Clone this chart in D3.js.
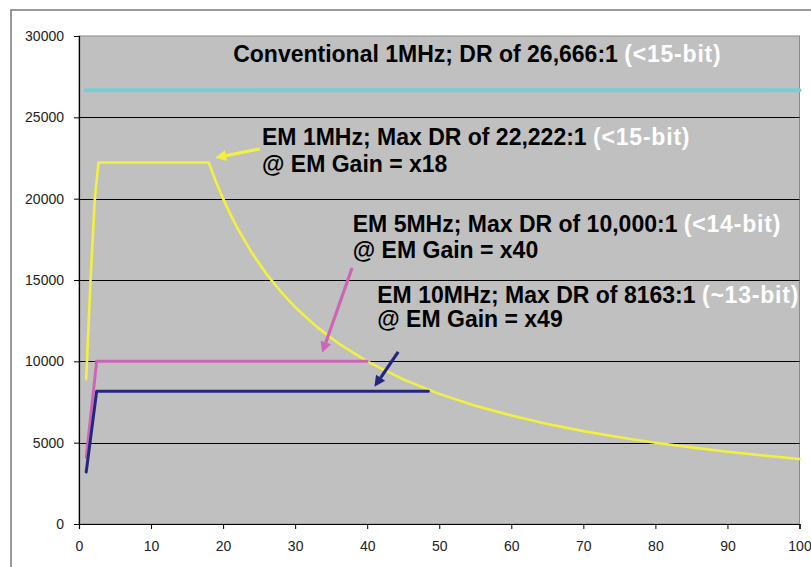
<!DOCTYPE html>
<html>
<head>
<meta charset="utf-8">
<script src="https://cdn.jsdelivr.net/npm/d3@7"></script>
<style>
  html, body { margin: 0; padding: 0; background: #ffffff; }
  svg { display: block; }
</style>
</head>
<body>
<svg id="chart" width="811" height="567"></svg>
<script>
// ---- Data ----
const xTicks = [0, 10, 20, 30, 40, 50, 60, 70, 80, 90, 100];
const yTicks = [0, 5000, 10000, 15000, 20000, 25000, 30000];

const convX = [0.9, 100];
const convY = [26666, 26666];

const em1X = [1, 1.6, 2.2, 2.7, 18, 19, 20, 21, 22, 24, 26, 28, 30, 33, 36, 40, 45, 50, 55, 60, 65, 70, 75, 80, 85, 90, 95, 100];
const em1Y = [8900, 15000, 20000, 22222, 22222, 21050, 20000, 19050, 18180, 16670, 15380, 14290, 13330, 12120, 11110, 10000, 8890, 8000, 7270, 6670, 6150, 5710, 5330, 5000, 4710, 4440, 4210, 4000];

const em5X = [1, 2.45, 40];
const em5Y = [4100, 10000, 10000];

const em10X = [1, 2.45, 48.5];
const em10Y = [3200, 8163, 8163];

const seriesNames = ["Conventional 1MHz", "EM 1MHz", "EM 5MHz", "EM 10MHz"];
const seriesColors = ["#7ccbd3", "#f2f040", "#cc66b4", "#262680"];

// annotation texts: [black part, white part], second line
const noteLine1 = [
  ["Conventional 1MHz; DR of 26,666:1 ", "(<15-bit)"],
  ["EM 1MHz; Max DR of 22,222:1 ", "(<15-bit)"],
  ["EM 5MHz; Max DR of 10,000:1 ", "(<14-bit)"],
  ["EM 10MHz; Max DR of 8163:1 ", "(~13-bit)"]
];
const noteLine2 = ["", "@ EM Gain = x18", "@ EM Gain = x40", "@ EM Gain = x49"];
// annotation anchor (data units): x, baseline y of first line, baseline y of second line
const noteX = [21.4, 25.4, 38.0, 41.4];
const noteY1 = [28410, 23300, 17970, 13560];
const noteY2 = [null, 21640, 16350, 12110];
// arrows (data units): from -> to
const arrowFromX = [null, 25.1, 37.9, 44.3];
const arrowFromY = [null, 23060, 15740, 10580];
const arrowToX = [null, 18.9, 33.75, 41.0];
const arrowToY = [null, 22510, 10520, 8430];

// ---- Drawing ----
const svg = d3.select("#chart");
const W = 811, H = 567;
const plot = { left: 79, right: 799.5, top: 36, bottom: 524 };

const x = d3.scaleLinear().domain([0, 100]).range([plot.left, plot.right]);
const y = d3.scaleLinear().domain([0, 30000]).range([plot.bottom, plot.top]);

// outer chart frame
svg.append("rect")
  .attr("x", 11).attr("y", 10)
  .attr("width", W + 20).attr("height", H + 20)
  .attr("fill", "#ffffff")
  .attr("stroke", "#7a7a7a").attr("stroke-width", 1.5);

// plot area
svg.append("rect")
  .attr("x", plot.left).attr("y", plot.top)
  .attr("width", plot.right - plot.left).attr("height", plot.bottom - plot.top)
  .attr("fill", "#c0c0c0")
  .attr("stroke", "#8a8a8a").attr("stroke-width", 1);

// gridlines
svg.append("g").selectAll("line")
  .data(yTicks.filter(d => d > 0 && d < 30000))
  .join("line")
  .attr("x1", plot.left).attr("x2", plot.right)
  .attr("y1", d => Math.round(y(d)) + 0.5).attr("y2", d => Math.round(y(d)) + 0.5)
  .attr("stroke", "#000").attr("stroke-width", 1);

// axes
const yAxis = d3.axisLeft(y).tickValues(yTicks).tickSize(5).tickPadding(10).tickFormat(d3.format("d"));
const xAxis = d3.axisBottom(x).tickValues(xTicks).tickSize(5).tickPadding(12).tickFormat(d3.format("d"));

const gy = svg.append("g").attr("transform", `translate(${plot.left},0)`).call(yAxis);
const gx = svg.append("g").attr("transform", `translate(0,${plot.bottom})`).call(xAxis);
[gy, gx].forEach(g => {
  g.selectAll(".domain").attr("stroke", "#000").attr("stroke-width", 1.2);
  g.selectAll(".tick line").attr("stroke", "#000");
  g.selectAll("text")
    .attr("font-family", "Arial, 'Liberation Sans', sans-serif")
    .attr("font-size", 14).attr("fill", "#222");
});

// series
const line = d3.line().x(d => x(d[0])).y(d => y(d[1]));
const allSeries = [
  { xs: convX, ys: convY, w: 4 },
  { xs: em1X, ys: em1Y, w: 2.6 },
  { xs: em5X, ys: em5Y, w: 3 },
  { xs: em10X, ys: em10Y, w: 3 }
];
allSeries.forEach((s, i) => {
  svg.append("path")
    .datum(s.xs.map((v, k) => [v, s.ys[k]]))
    .attr("d", line)
    .attr("fill", "none")
    .attr("stroke", seriesColors[i])
    .attr("stroke-width", s.w)
    .attr("stroke-linejoin", "round")
    .attr("stroke-linecap", "round")
    .attr("class", "series")
    .attr("data-name", seriesNames[i]);
});

// arrows
seriesNames.forEach((n, i) => {
  if (arrowFromX[i] == null) return;
  const x1 = x(arrowFromX[i]), y1 = y(arrowFromY[i]);
  const x2 = x(arrowToX[i]), y2 = y(arrowToY[i]);
  const ang = Math.atan2(y2 - y1, x2 - x1);
  const L = 11, Wd = 5.5;
  const bx = x2 - L * Math.cos(ang), by = y2 - L * Math.sin(ang);
  svg.append("line")
    .attr("x1", x1).attr("y1", y1).attr("x2", bx).attr("y2", by)
    .attr("stroke", seriesColors[i]).attr("stroke-width", 3.2);
  const px = -Math.sin(ang), py = Math.cos(ang);
  svg.append("path")
    .attr("d", `M${x2},${y2}L${bx + px * Wd},${by + py * Wd}L${bx - px * Wd},${by - py * Wd}Z`)
    .attr("fill", seriesColors[i]);
});

// annotation texts
const font = "Arial, 'Liberation Sans', sans-serif";
noteLine1.forEach((parts, i) => {
  const t = svg.append("text")
    .attr("x", x(noteX[i])).attr("y", y(noteY1[i]))
    .attr("font-family", font).attr("font-weight", "bold").attr("font-size", 23);
  t.append("tspan").attr("fill", "#000").text(parts[0]);
  t.append("tspan").attr("fill", "#ffffff").attr("letter-spacing", 0.8).text(parts[1]);
  if (noteLine2[i]) {
    svg.append("text")
      .attr("x", x(noteX[i])).attr("y", y(noteY2[i]))
      .attr("font-family", font).attr("font-weight", "bold").attr("font-size", 23)
      .attr("fill", "#000").text(noteLine2[i]);
  }
});
</script>
</body>
</html>
